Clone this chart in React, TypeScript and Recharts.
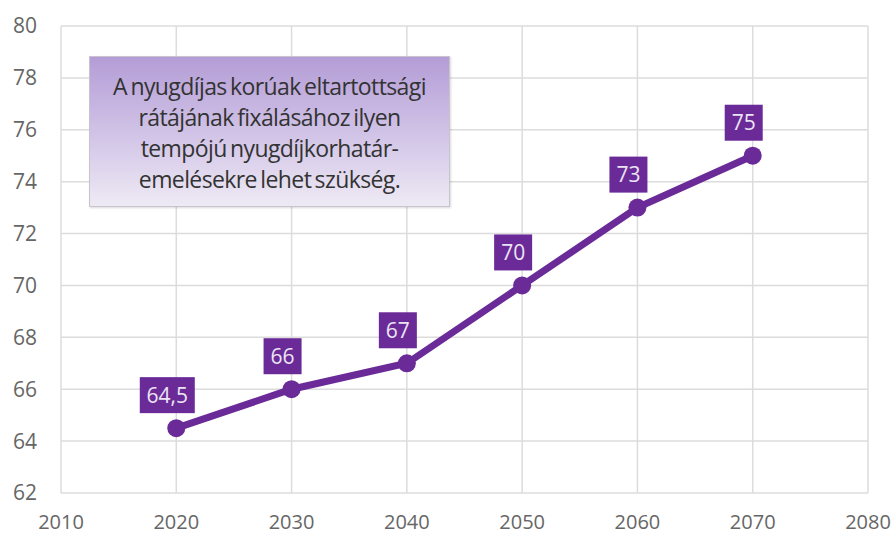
import React from "react";
import { LineChart, Line, XAxis, YAxis, CartesianGrid, LabelList } from "recharts";

// Nyugdíjkorhatár (years) by decade
const YEARS = [2020, 2030, 2040, 2050, 2060, 2070];
const AGES = [64.5, 66, 67, 70, 73, 75];
const AGE_LABELS = ["64,5", "66", "67", "70", "73", "75"];
const X_TICKS = [2010, 2020, 2030, 2040, 2050, 2060, 2070, 2080];
const Y_TICKS = [62, 64, 66, 68, 70, 72, 74, 76, 78, 80];
const NOTE_LINES = [
  "A nyugdíjas korúak eltartottsági",
  "rátájának fixálásához ilyen",
  "tempójú nyugdíjkorhatár-",
  "emelésekre lehet szükség.",
];

const PURPLE = "#6a2b98";
const FONT = "'Open Sans', 'Noto Sans', sans-serif";

const data = YEARS.map((year, i) => ({ year, age: AGES[i], label: AGE_LABELS[i] }));

function ValueBox(props: any) {
  const { x, y, index } = props;
  const text = AGE_LABELS[index];
  const w = text.length > 2 ? 55 : 38;
  const h = 36;
  const cx = x - 9;
  const bottom = y - 15;
  return (
    <g>
      <rect x={cx - w / 2} y={bottom - h} width={w} height={h} fill={PURPLE} />
      <text
        x={cx}
        y={bottom - h / 2}
        dy="0.36em"
        textAnchor="middle"
        fill="#ece4f4"
        fontSize={21}
        fontFamily={FONT}
      >
        {text}
      </text>
    </g>
  );
}

export default function App() {
  return (
    <div style={{ position: "absolute", left: 0, top: 0, width: 896, height: 536, background: "#fff", fontFamily: FONT }}>
      <LineChart width={896} height={536} data={data} margin={{ top: 26, right: 28, left: 0, bottom: 0 }}>
        <CartesianGrid stroke="#dcdcdc" strokeWidth={1.5} />
        <XAxis
          dataKey="year"
          type="number"
          domain={[2010, 2080]}
          ticks={X_TICKS}
          tickLine={false}
          axisLine={false}
          tickMargin={16}
          height={43}
          tick={{ fill: "#666", fontSize: 20, fontFamily: FONT }}
        />
        <YAxis
          type="number"
          domain={[62, 80]}
          ticks={Y_TICKS}
          tickLine={false}
          axisLine={false}
          tickMargin={18}
          width={61}
          tick={{ fill: "#666", fontSize: 21, fontFamily: FONT }}
        />
        <Line
          dataKey="age"
          stroke={PURPLE}
          strokeWidth={7}
          dot={{ r: 9, fill: PURPLE, stroke: PURPLE, strokeWidth: 0 }}
          activeDot={false}
          isAnimationActive={false}
        >
          <LabelList dataKey="label" content={<ValueBox />} />
        </Line>
      </LineChart>
      <div
        style={{
          position: "absolute",
          left: 89,
          top: 56,
          width: 361,
          height: 151,
          boxSizing: "border-box",
          border: "1px solid #c9c3cf",
          background: "linear-gradient(to bottom, #b49dd6 0%, #d3c6e8 55%, #eeeaf4 100%)",
          boxShadow: "1px 1px 2px rgba(0,0,0,0.15)",
          display: "flex",
          flexDirection: "column",
          justifyContent: "center",
          alignItems: "center",
          color: "#333",
          fontSize: 23,
          fontWeight: 500,
          lineHeight: "31px",
          letterSpacing: -0.6,
          wordSpacing: -2,
          textAlign: "center",
          paddingTop: 2,
        }}
      >
        {NOTE_LINES.map((l) => (
          <div key={l} style={{ whiteSpace: "nowrap" }}>{l}</div>
        ))}
      </div>
    </div>
  );
}
